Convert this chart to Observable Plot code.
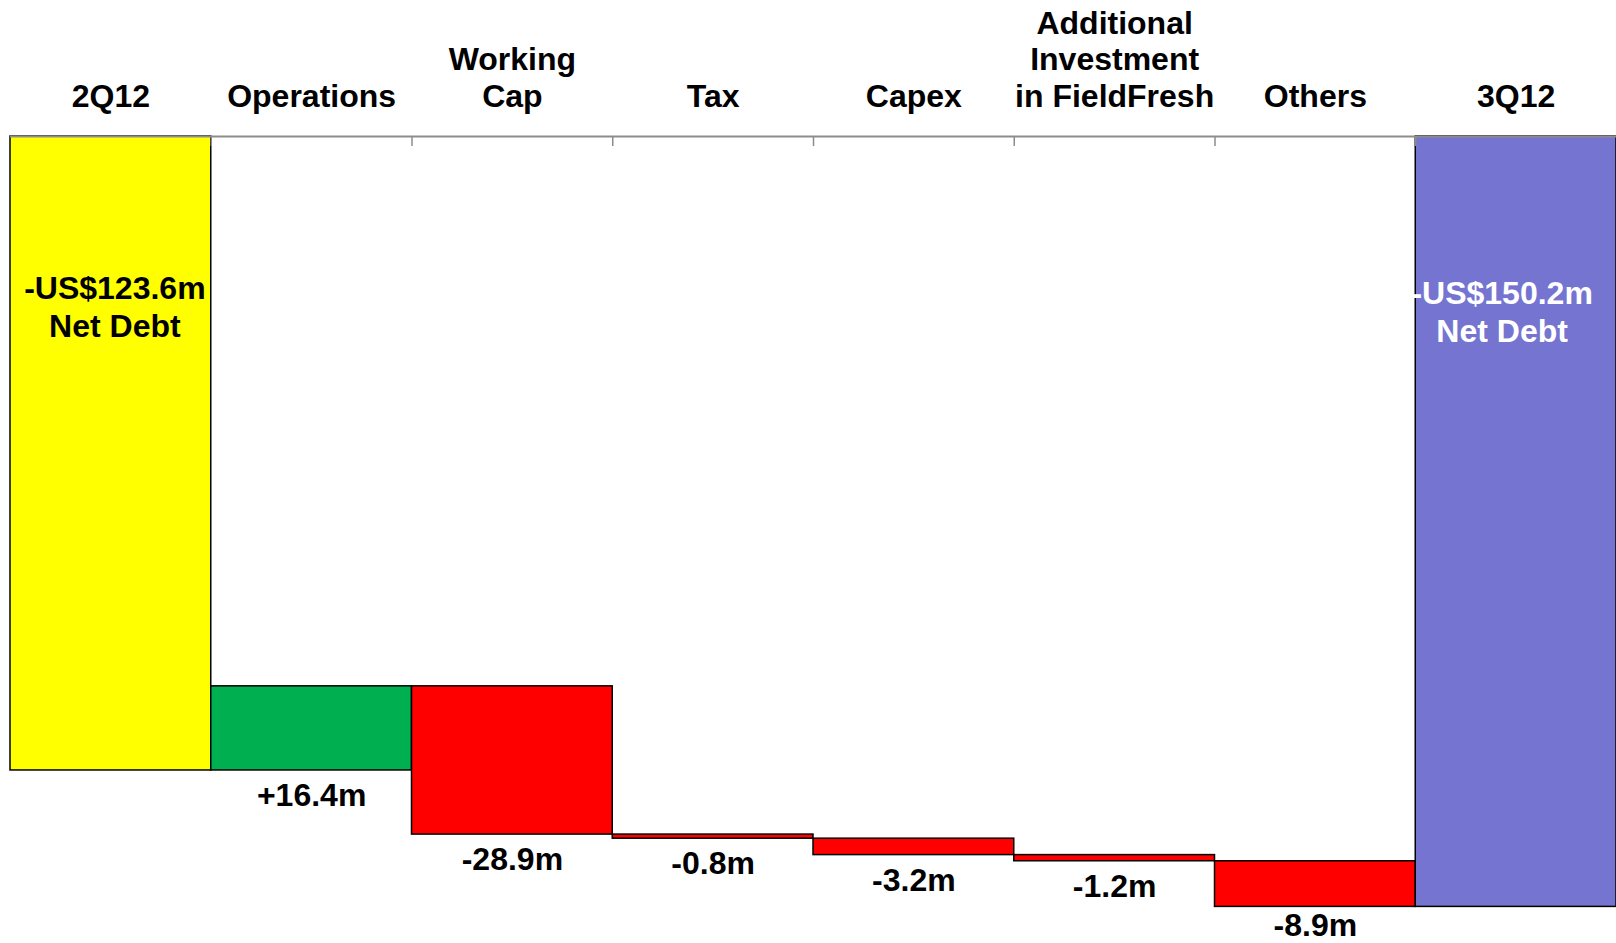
<!DOCTYPE html>
<html><head><meta charset="utf-8">
<script src="https://cdn.jsdelivr.net/npm/d3@7"></script>
<script src="https://cdn.jsdelivr.net/npm/@observablehq/plot@0.6"></script>
<style>html,body{margin:0;padding:0;background:#fff;}#chart svg{display:block;}</style>
</head><body><div id="chart"></div>
<script>
const categories = ["2Q12", "Operations", "Working\nCap", "Tax", "Capex", "Additional\nInvestment\nin FieldFresh", "Others", "3Q12"];
const kinds = ["total", "change", "change", "change", "change", "change", "change", "total"];
const values = [-123.6, 16.4, -28.9, -0.8, -3.2, -1.2, -8.9, -150.2];
const valueLabels = ["-US$123.6m\nNet Debt", "+16.4m", "-28.9m", "-0.8m", "-3.2m", "-1.2m", "-8.9m", "-US$150.2m\nNet Debt"];
const barColors = ["#FFFF00", "#00B050", "#FF0000", "#FF0000", "#FF0000", "#FF0000", "#FF0000", "#7575D1"];

let running = 0;
const rows = categories.map((c, i) => {
  let y1, y2;
  if (kinds[i] === "total") { y1 = 0; y2 = values[i]; running = values[i]; }
  else { y1 = running; y2 = running + values[i]; running = y2; }
  return {i, cat: c, kind: kinds[i], y1, y2, label: valueLabels[i], color: barColors[i]};
});
const changes = rows.filter(d => d.kind === "change");
const lastChange = changes.slice(-1);
const otherChanges = changes.slice(0, -1);
const first = rows.filter(d => d.i === 0);
const last = rows.filter(d => d.i === rows.length - 1);
const font = "'Liberation Sans', Arial, Helvetica, sans-serif";
const yMin = d3.min(rows, d => Math.min(d.y1, d.y2));

const chart = Plot.plot({
  width: 1616,
  height: 943,
  marginTop: 136,
  marginBottom: 36.6,
  marginLeft: 10,
  marginRight: 0,
  style: {fontFamily: font, background: "#fff"},
  x: {type: "linear", domain: [0, categories.length], axis: null},
  y: {domain: [yMin, 0], axis: null},
  marks: [
    Plot.rect(rows, {x1: "i", x2: d => d.i + 1, y1: "y1", y2: "y2", fill: "color", stroke: "#000", strokeWidth: 1.5}),
    Plot.ruleY([0], {stroke: "#8c8c8c", strokeWidth: 2}),
    Plot.axisX(d3.range(1, categories.length), {anchor: "top", tickSize: -9, tickFormat: () => "", label: null, stroke: "#8c8c8c", strokeWidth: 1.5}),
    Plot.text(rows, {x: d => d.i + 0.5, y: () => 0, text: "cat", lineAnchor: "bottom", dy: -30, lineHeight: 1.14, fontSize: 32, fontWeight: "bold", fill: "#000"}),
    Plot.text(otherChanges, {x: d => d.i + 0.5, y: d => Math.min(d.y1, d.y2), text: "label", lineAnchor: "top", dy: 13, fontSize: 32, fontWeight: "bold", fill: "#000"}),
    Plot.text(lastChange, {x: d => d.i + 0.5, y: d => Math.min(d.y1, d.y2), text: "label", lineAnchor: "top", dy: 6, fontSize: 32, fontWeight: "bold", fill: "#000"}),
    Plot.text(first, {x: d => d.i + 0.5, y: () => 0, text: "label", lineAnchor: "top", dy: 135, dx: 4, lineHeight: 1.19, fontSize: 32, fontWeight: "bold", fill: "#000"}),
    Plot.text(last, {x: d => d.i + 0.5, y: () => 0, text: "label", lineAnchor: "top", dy: 141, dx: -14, lineHeight: 1.17, fontSize: 32, fontWeight: "bold", fill: "#fff"})
  ]
});
document.getElementById("chart").appendChild(chart);
</script>
</body></html>
